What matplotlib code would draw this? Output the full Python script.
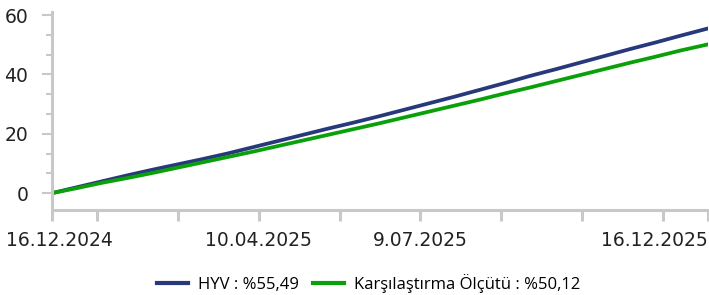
import matplotlib
matplotlib.use("Agg")
import matplotlib.pyplot as plt
import matplotlib.transforms as mtrans
from matplotlib.ticker import MultipleLocator
import pandas as pd

# veriler (okunan degerler, yaklasik 2 haftalik)
gunler = pd.date_range("2024-12-16", periods=27, freq="14D")
gunler = gunler[:-1].append(pd.DatetimeIndex(["2025-12-16"]))
hyv = [0.0, 2.0, 4.0, 6.0, 7.9, 9.7, 11.5, 13.4, 15.5, 17.6, 19.7, 21.8, 23.8,
       25.9, 28.1, 30.3, 32.5, 34.8, 37.1, 39.5, 41.7, 44.0, 46.3, 48.6, 50.8,
       53.1, 55.49]
olcut = [0.0, 1.7, 3.5, 5.1, 6.8, 8.6, 10.4, 12.2, 14.0, 15.9, 17.8, 19.7, 21.6,
         23.5, 25.5, 27.5, 29.5, 31.5, 33.6, 35.6, 37.7, 39.8, 41.9, 44.0, 46.0,
         48.1, 50.12]
etiket_tarihleri = ["2024-12-16", "2025-04-10", "2025-07-09", "2025-12-16"]
etiketler = ["16.12.2024", "10.04.2025", "9.07.2025", "16.12.2025"]
ara_tikler = ["2025-01-10", "2025-02-24", "2025-05-25", "2025-08-23",
              "2025-10-07", "2025-11-21"]

gri = "#c8c8c8"
fig = plt.figure(figsize=(7.09, 2.95), dpi=100)
ax = fig.add_axes([0.0733, 0.288, 0.9253, 0.671])

ax.plot(gunler, hyv, color="#27397a", lw=2.7, label="HYV : %55,49")
ax.plot(gunler, olcut, color="#0aa00a", lw=2.7, label="Karşılaştırma Ölçütü : %50,12")

ax.set_xlim(pd.Timestamp("2024-12-16"), pd.Timestamp("2025-12-16"))
ax.set_ylim(-5.7, 61)

# eksenler
for s in ["top", "right"]:
    ax.spines[s].set_visible(False)
for s in ["left", "bottom"]:
    ax.spines[s].set_color(gri)
    ax.spines[s].set_linewidth(2.2)

ax.yaxis.set_minor_locator(MultipleLocator(20 / 3))
ax.set_yticks([0, 20, 40, 60])
ax.tick_params(axis="y", which="major", length=7, width=1.5, color=gri,
               labelsize=13.5, labelcolor="#222222", pad=10)
ax.tick_params(axis="y", which="minor", length=4, width=1.5, color=gri)

ax.set_xticks(pd.to_datetime(etiket_tarihleri))
ax.set_xticklabels(etiketler)
ax.set_xticks(pd.to_datetime(ara_tikler), minor=True)
ax.tick_params(axis="x", which="both", length=8, width=2.2, color=gri,
               labelsize=13.5, labelcolor="#222222", pad=7)

lbls = ax.get_xticklabels()
lbls[0].set_transform(lbls[0].get_transform() +
                      mtrans.ScaledTranslation(7 / 100, 0, fig.dpi_scale_trans))
lbls[-1].set_horizontalalignment("right")

fig.legend(loc="center", bbox_to_anchor=(0.52, 0.04), ncol=2, frameon=False,
           prop={"family": "Open Sans", "size": 12}, handlelength=1.9,
           handletextpad=0.6, columnspacing=0.8)
for l in fig.legends[0].get_lines():
    l.set_linewidth(3)

plt.savefig("out.png", dpi=100)
